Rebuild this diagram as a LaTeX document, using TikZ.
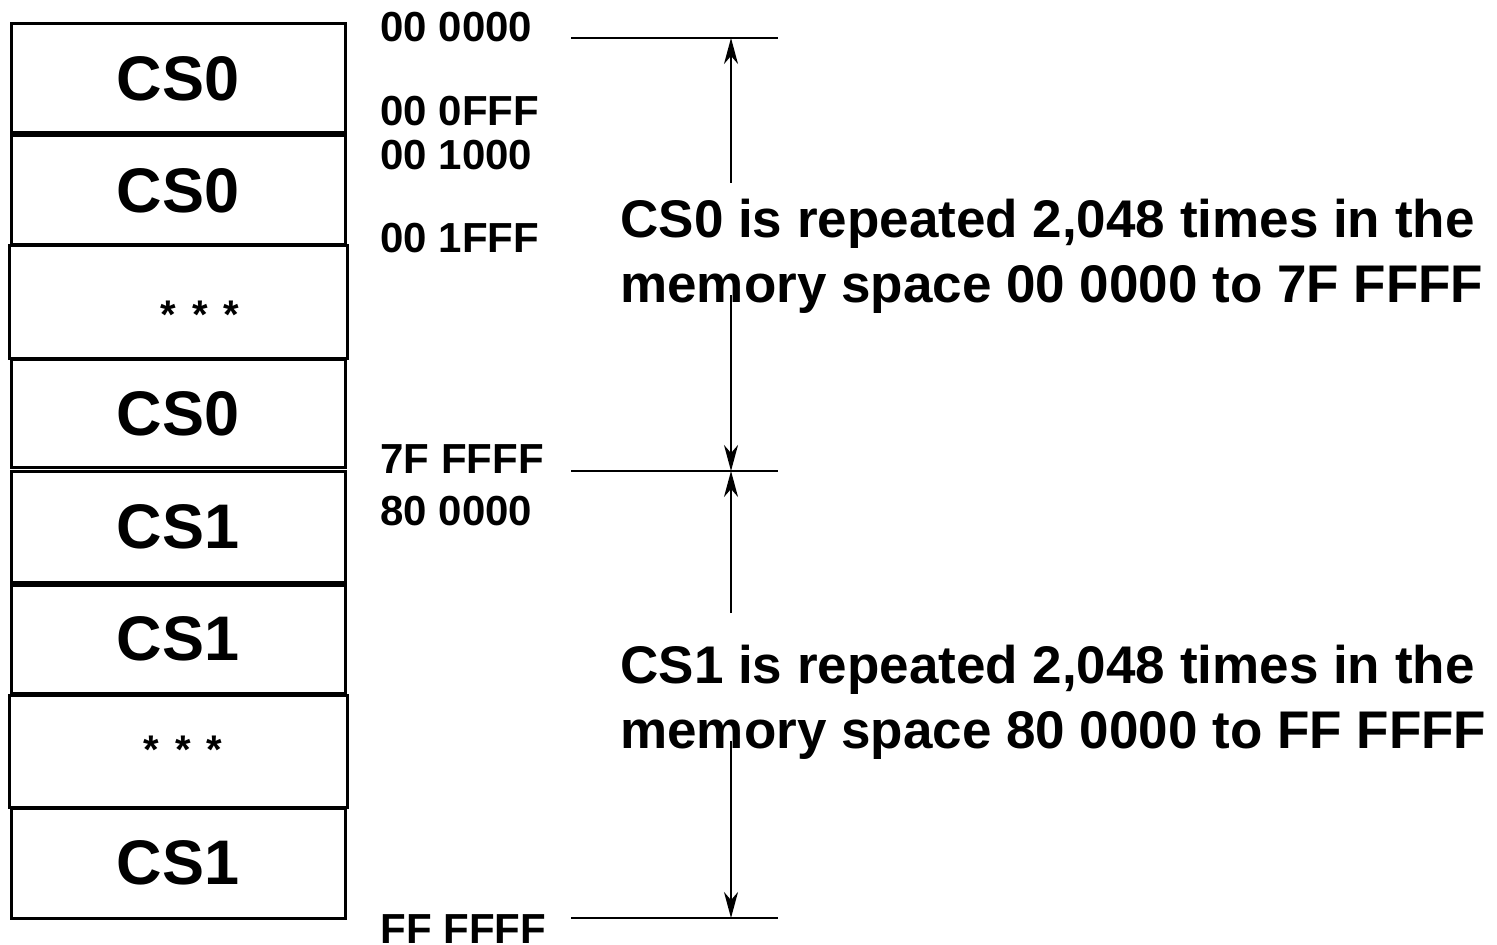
\documentclass[tikz,border=0pt]{standalone}
\usepackage{fontspec}
\setmainfont{Liberation Sans}
\usetikzlibrary{arrows.meta}

\begin{document}
\begin{tikzpicture}[x=0.5pt, y=-0.5pt,
  memcell/.style={draw, line width=1.5pt, minimum width=167pt, inner sep=0pt, font=\fontsize{31.5}{36}\selectfont\bfseries},
  stars/.style={inner sep=0pt, font=\fontsize{20}{24}\selectfont\bfseries},
  addr/.style={anchor=west, inner sep=0pt, font=\fontsize{21}{25}\selectfont\bfseries},
  note/.style={anchor=west, inner sep=0pt, align=left, font=\fontsize{26.5}{32.5}\selectfont\bfseries},
  bound/.style={line width=1.2pt},
  dimarrow/.style={line width=0.9pt, -{Stealth[length=13pt, width=7pt, inset=4pt]}}]
  \useasboundingbox (0,0) rectangle (1497,945);

  % memory column
  \node[memcell, minimum height=54.5pt] (m1) at (178,78.5) {CS0};
  \node[memcell, minimum height=54.5pt] (m2) at (178,190.5) {CS0};
  \node[memcell, minimum height=56.5pt, minimum width=169pt] (m3) at (178,302.5) {};
  \node[memcell, minimum height=54pt] (m4) at (178,414) {CS0};
  \node[memcell, minimum height=55pt] (m5) at (178,527) {CS1};
  \node[memcell, minimum height=54pt] (m6) at (178,639) {CS1};
  \node[memcell, minimum height=56pt, minimum width=169pt] (m7) at (178,751) {};
  \node[memcell, minimum height=55pt] (m8) at (178,863) {CS1};
  \node[stars] (s3) at (200,315) {*\hspace{8pt}*\hspace{8pt}*};
  \node[stars] (s7) at (183,750) {*\hspace{8pt}*\hspace{8pt}*};

  % addresses
  \node[addr] (a000) at (380,27.5) {00 0000};
  \node[addr] (a0ff) at (380,111) {00 0FFF};
  \node[addr] (a100) at (380,155) {00 1000};
  \node[addr] (a1ff) at (380,238) {00 1FFF};
  \node[addr] (a7ff) at (380,459) {7F FFFF};
  \node[addr] (a800) at (380,511) {80 0000};
  \node[addr] (afff) at (380,929) {FF FFFF};

  % boundary lines
  \coordinate (l0a) at (571,38);  \coordinate (l0b) at (778,38);
  \coordinate (l1a) at (571,471); \coordinate (l1b) at (778,471);
  \coordinate (l2a) at (571,918); \coordinate (l2b) at (778,918);
  \draw[bound] (l0a) -- (l0b);
  \draw[bound] (l1a) -- (l1b);
  \draw[bound] (l2a) -- (l2b);

  % notes
  \node[note] (n0) at (620,256) {CS0 is repeated 2,048 times in the\\memory space 00 0000 to 7F FFFF};
  \node[note] (n1) at (620,702.5) {CS1 is repeated 2,048 times in the\\memory space 80 0000 to FF FFFF};

  % span arrows
  \coordinate (p0) at (731,183);
  \coordinate (p1) at (731,295);
  \coordinate (p2) at (731,613);
  \coordinate (p3) at (731,741);
  \draw[dimarrow] (p0) -- (p0 |- l0a);
  \draw[dimarrow] (p1) -- (p1 |- l1a);
  \draw[dimarrow] (p2) -- (p2 |- l1a);
  \draw[dimarrow] (p3) -- (p3 |- l2a);
\end{tikzpicture}
\end{document}
